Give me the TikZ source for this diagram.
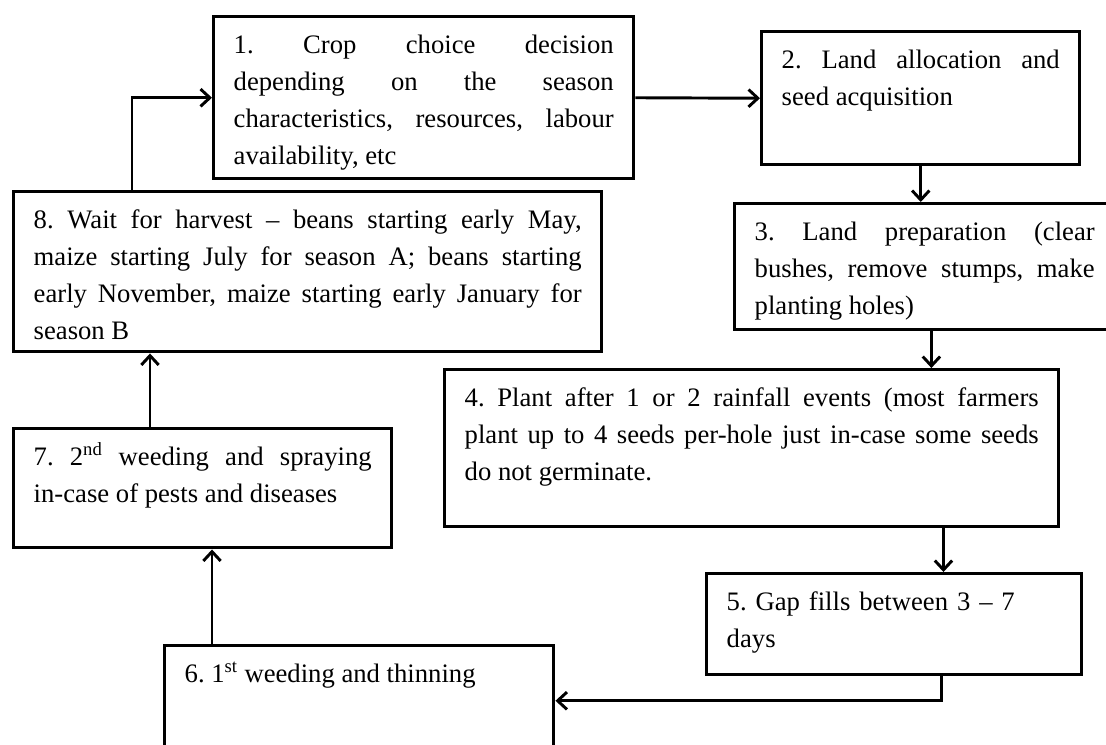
\documentclass[tikz,border=0pt]{standalone}
\usepackage{fontspec}
\setmainfont{Liberation Serif}
\usetikzlibrary{arrows.meta}
\frenchspacing

\begin{document}
\begin{tikzpicture}[x=0.75pt,y=-0.75pt,
	stage/.style={draw,line width=2.6pt,anchor=north west,inner xsep=15pt,inner ysep=0pt,
		align=justify,text height=27.75pt,font=\fontsize{20}{27.75}\selectfont},
	flow/.style={line width=2.2pt,-{Straight Barb[length=7pt,width=13pt]}}]
	\useasboundingbox (0,0) rectangle (1106,744);
	%STAGES
	\node[stage,text width=285pt,text depth=93.75pt] (crop) at (212,15) {1. Crop choice decision\linebreak depending on the season\linebreak characteristics, resources, labour\linebreak availability, etc};
	\node[stage,text width=208.5pt,text depth=72pt] (alloc) at (760,30) {2. Land allocation and\linebreak seed acquisition};
	\node[stage,text width=255pt,text depth=66.75pt] (prep) at (733,202) {3. Land preparation (clear\linebreak bushes, remove stumps, make\linebreak planting holes)};
	\node[stage,text width=430.5pt,text depth=90pt] (plant) at (443,368) {4. Plant after 1 or 2 rainfall events (most farmers\linebreak plant up to 4 seeds per-hole just in-case some seeds\linebreak do not germinate.};
	\node[stage,align=left,text width=251.25pt,text depth=48pt] (gapfill) at (705,572) {5. Gap fills between 3 -- 7\\days};
	\node[stage,text width=261.75pt,text depth=54.75pt] (weedone) at (163,644) {6. 1\textsuperscript{st} weeding and thinning};
	\node[stage,text width=253.5pt,text depth=61.5pt] (weedtwo) at (12,427) {7. 2\textsuperscript{nd} weeding and spraying\linebreak in-case of pests and diseases};
	\node[stage,text width=411pt,text depth=92.25pt] (harvest) at (12,190) {8. Wait for harvest -- beans starting early May,\linebreak maize starting July for season A; beans starting\linebreak early November, maize starting early January for\linebreak season B};
	
	%ARROWS
	\draw[flow] (crop.east) -- (alloc.west);
	\draw[flow] (alloc.south) -- (alloc.south |- prep.north);
	\draw[flow] ([xshift=5pt]prep.south) -- ([xshift=5pt]prep.south |- plant.north);
	\draw[flow] ([xshift=-105pt]gapfill.north east |- plant.south) -- ([xshift=-105pt]gapfill.north east);
	\draw[flow] ([xshift=-106.5pt]gapfill.south east) |- (weedone.east);
	\draw[flow] ([xshift=36.75pt]weedone.north west) -- ([xshift=36.75pt]weedone.north west |- weedtwo.south);
	\draw[flow] ([xshift=103.5pt]weedtwo.north west) -- ([xshift=103.5pt]weedtwo.north west |- harvest.south);
	\draw[flow] ([xshift=90pt]harvest.north west) |- (crop.west);
\end{tikzpicture}
\end{document}
